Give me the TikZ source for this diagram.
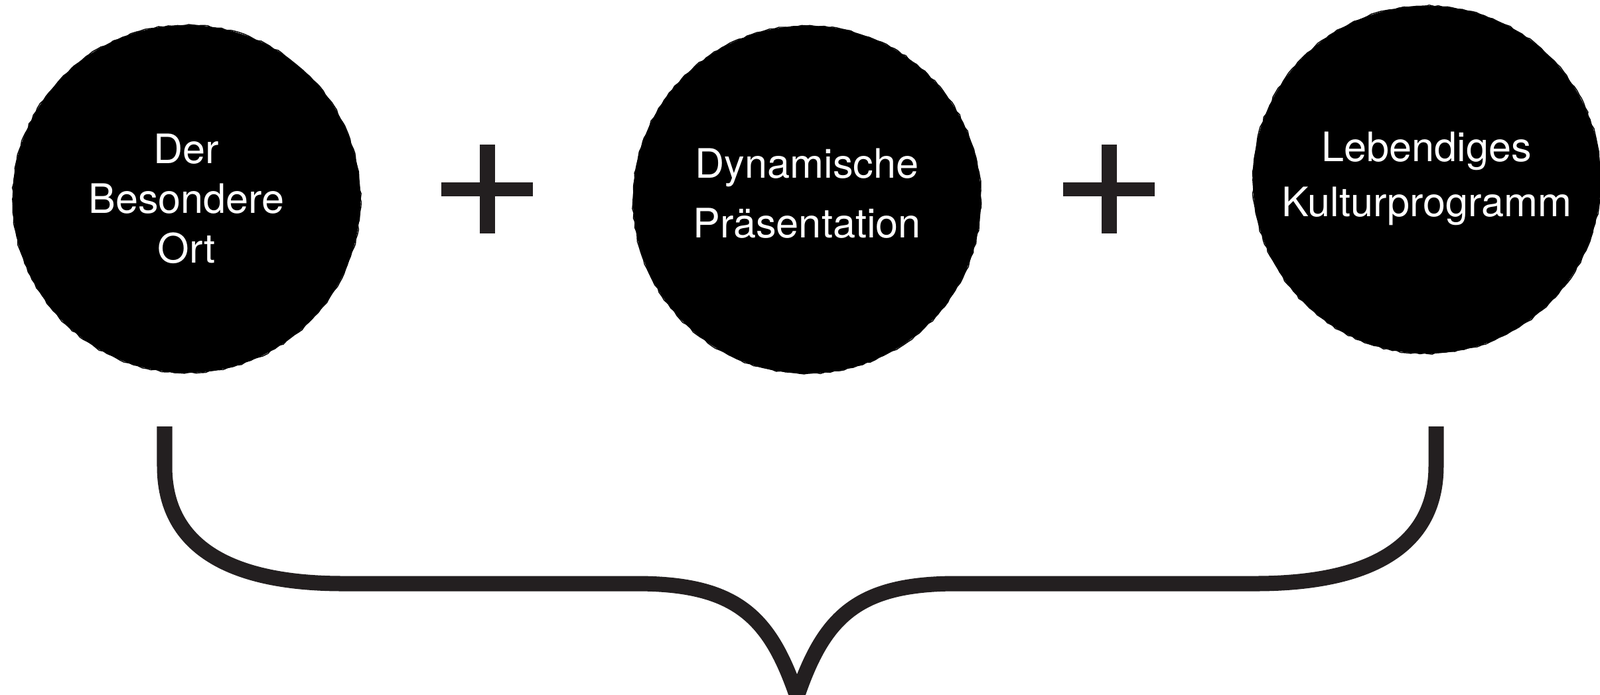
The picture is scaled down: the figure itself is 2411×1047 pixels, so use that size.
\documentclass[tikz,border=0pt]{standalone}
\usepackage{fontspec}
\setmainfont{TeX Gyre Heros}
\usetikzlibrary{decorations.pathmorphing}
\definecolor{ink}{HTML}{231F20}

\begin{document}
\begin{tikzpicture}[x=0.01cm,y=-0.01cm,
                bubble/.style={circle,fill=black,minimum size=5.24cm,inner sep=0pt,
                  preaction={draw=black,line width=0.4pt,decorate,
                    decoration={random steps,segment length=2pt,amplitude=0.35pt}}},
                caption/.style={text=white,align=center,font=\fontsize{17.4}{21.3}\selectfont},
                hbar/.style={rectangle,fill=ink,inner sep=0pt,minimum width=1.37cm,minimum height=0.21cm},
                vbar/.style={rectangle,fill=ink,inner sep=0pt,minimum width=0.23cm,minimum height=1.34cm},
                brace/.style={draw=ink,line width=0.23cm}]
                \useasboundingbox (0,0) rectangle (2411,1047);

                \node[bubble] (ort) at (281,300) {};
                \node[bubble] (praes) at (1216,301) {};
                \node[bubble] (kultur) at (2150,271) {};

                \node[caption] (ortText) at (ort) {Der\\Besondere\\Ort};
                \node[caption,font=\fontsize{17.4}{25.6}\selectfont] (praesText)
                  at ([yshift=2.6pt]praes.center) {Dynamische\\Präsentation};
                \node[caption,font=\fontsize{17.4}{23.6}\selectfont] (kulturText)
                  at ([yshift=0.6pt]kultur.center) {Lebendiges\\Kulturprogramm};

                % plus signs
                \node[hbar] (plusA) at (734,285) {};
                \node[vbar] (plusAv) at (734,285) {};
                \node[hbar] (plusB) at (1671,285) {};
                \node[vbar] (plusBv) at (1671,285) {};

                % brace
                \coordinate (braceL) at (248,643);
                \coordinate (braceR) at (2164,643);
                \coordinate (tip) at (1201,1050);
                \draw[brace] (braceL) -- (248,703)
                  .. controls (248,820) and (340,880) .. (517,880) -- (959,880)
                  .. controls (1110,880) and (1160,930) .. (tip);
                \draw[brace] (braceR) -- (2164,703)
                  .. controls (2164,820) and (2070,880) .. (1892,880) -- (1441,880)
                  .. controls (1292,880) and (1242,930) .. (tip);
\end{tikzpicture}
\end{document}
